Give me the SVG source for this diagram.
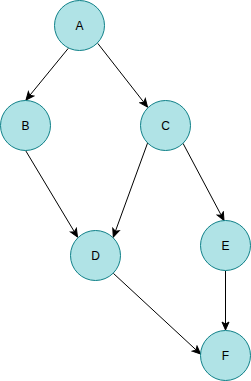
<svg xmlns="http://www.w3.org/2000/svg" width="251" height="381" viewBox="0 0 251 381">
<style>
.n circle{fill:#b0e3e6;stroke:#0e8088;stroke-width:1}
.n text{font-family:"Liberation Sans",Arial,sans-serif;font-size:12px;fill:#000;text-anchor:middle}
.e path{fill:none;stroke:#000;stroke-width:1;marker-end:url(#ar)}
</style>
<defs>
<marker id="ar" markerUnits="userSpaceOnUse" markerWidth="10" markerHeight="10" viewBox="0 0 10 10" refX="9" refY="5" orient="auto">
<path d="M1,1.5 L9,5 L1,8.5 L3,5 Z" fill="#000" stroke="#000" stroke-width="1"/>
</marker>
</defs>
<g class="e" id="connectors">
<path d="M68.3,48.3 L26,100"/>
<path d="M97.7,43.3 L147.5,107"/>
<path d="M25.7,150.7 L77.5,237"/>
<path d="M147.7,142.7 L113.3,237"/>
<path d="M183,143.3 L224,220.5"/>
<path d="M225.5,270.7 L225.5,330"/>
<path d="M113.3,273.3 L200.5,354"/>
</g>
<g class="n" id="A"><circle cx="79.5" cy="25.5" r="25"/><text x="79.5" y="30">A</text></g>
<g class="n" id="B"><circle cx="25.5" cy="125.5" r="25"/><text x="25.5" y="130">B</text></g>
<g class="n" id="C"><circle cx="165.5" cy="125.5" r="25"/><text x="165.5" y="130">C</text></g>
<g class="n" id="D"><circle cx="95.5" cy="255.5" r="25"/><text x="95.5" y="260">D</text></g>
<g class="n" id="E"><circle cx="225.5" cy="245.5" r="25"/><text x="225.5" y="250">E</text></g>
<g class="n" id="F"><circle cx="225.5" cy="355.5" r="25"/><text x="225.5" y="360">F</text></g>
</svg>
